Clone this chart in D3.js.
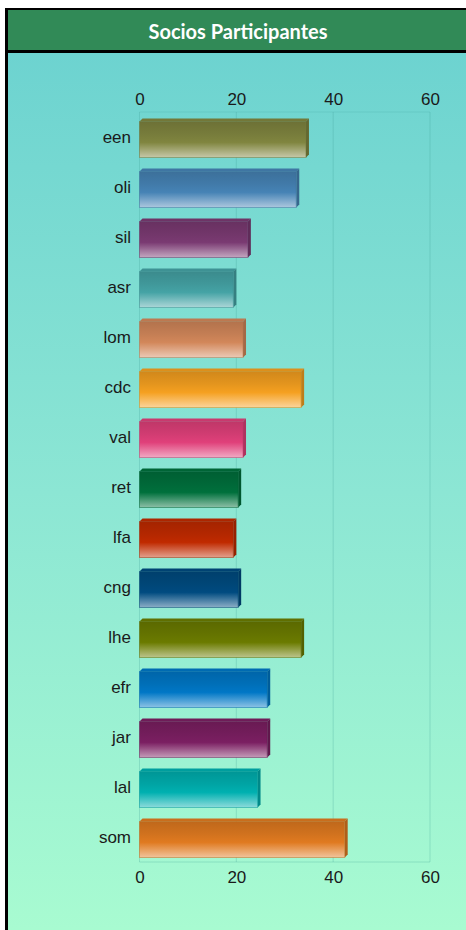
<!DOCTYPE html>
<html lang="es">
<head>
  <meta charset="UTF-8">
  <title>Socios Participantes</title>
  <script src="https://d3js.org/d3.v7.min.js"></script>
  <style>
    body { margin: 0; background: #fff; }
    svg { display: block; }
  </style>
</head>
<body>
  <div id="chart"></div>
  <script>
  // data
  var categories = ["een", "oli", "sil", "asr", "lom", "cdc", "val", "ret", "lfa", "cng", "lhe", "efr", "jar", "lal", "som"];
  var values = [35, 33, 23, 20, 22, 34, 22, 21, 20, 21, 34, 27, 27, 25, 43];
  var tickValues = [0, 20, 40, 60];
  var palette = ["#80853f", "#4683b5", "#7a3a72", "#45a3a5", "#d2875a", "#f5a020", "#e0407a", "#00703c",
                 "#c02a00", "#004b80", "#6b7b00", "#0077c6", "#7b1f62", "#00b0b0", "#e07a20"];
  var title = "Socios Participantes";

  var W = 466, H = 930;
  var depth = 3;

  var svg = d3.select("#chart").append("svg")
    .attr("width", W)
    .attr("height", H);

  var defs = svg.append("defs");

  // background gradient
  var bg = defs.append("linearGradient")
    .attr("id", "bg").attr("x1", 0).attr("y1", 0).attr("x2", 0).attr("y2", 1);
  bg.append("stop").attr("offset", "0%").attr("stop-color", "#6dd3d0");
  bg.append("stop").attr("offset", "50%").attr("stop-color", "#8ce6d4");
  bg.append("stop").attr("offset", "100%").attr("stop-color", "#a8fbd1");

  svg.append("rect")
    .attr("x", 8).attr("y", 53)
    .attr("width", W - 8).attr("height", H - 53)
    .attr("fill", "url(#bg)");

  // frame
  svg.append("rect").attr("x", 5).attr("y", 8).attr("width", 3).attr("height", H - 8).attr("fill", "#000");
  svg.append("rect").attr("x", 5).attr("y", 8).attr("width", W - 5).attr("height", 2).attr("fill", "#000");
  svg.append("rect").attr("x", 8).attr("y", 10).attr("width", W - 8).attr("height", 40).attr("fill", "#318a57");
  svg.append("rect").attr("x", 8).attr("y", 50).attr("width", W - 8).attr("height", 3).attr("fill", "#000");

  svg.append("text")
    .attr("x", 238).attr("y", 31)
    .attr("text-anchor", "middle")
    .attr("dominant-baseline", "central")
    .style("font-family", "Lato, 'Open Sans', sans-serif")
    .style("font-weight", 700)
    .style("font-size", "20px")
    .style("fill", "#fff")
    .text(title);

  // scales
  var x = d3.scaleLinear()
    .domain([0, 60])
    .range([139.5, 430]);

  var y = d3.scaleBand()
    .domain(categories)
    .range([113, 863])
    .paddingInner(0.22)
    .paddingOuter(0.11);

  var gridTop = 112, gridBottom = 862;

  // grid
  var grid = svg.append("g");
  grid.selectAll("line.v")
    .data(tickValues)
    .enter().append("line")
    .attr("x1", function(d) { return x(d); })
    .attr("x2", function(d) { return x(d); })
    .attr("y1", gridTop).attr("y2", gridBottom)
    .attr("stroke", "#3a9a94").attr("stroke-opacity", 0.25);
  grid.append("line")
    .attr("x1", x(0)).attr("x2", x(60)).attr("y1", gridTop).attr("y2", gridTop)
    .attr("stroke", "#3a9a94").attr("stroke-opacity", 0.2);
  grid.append("line")
    .attr("x1", x(0)).attr("x2", x(60)).attr("y1", gridBottom).attr("y2", gridBottom)
    .attr("stroke", "#3a9a94").attr("stroke-opacity", 0.25);

  // axes
  var axisTop = d3.axisTop(x).tickValues(tickValues).tickSize(0).tickPadding(0);
  var axisBottom = d3.axisBottom(x).tickValues(tickValues).tickSize(0).tickPadding(0);
  var axisLeft = d3.axisLeft(y).tickSize(0).tickPadding(0);

  function styleAxis(g) {
    g.select(".domain").remove();
    g.selectAll("text")
      .style("font-family", "'Liberation Sans', Arial, sans-serif")
      .style("font-size", "17px")
      .style("fill", "#1a1a1a");
  }

  svg.append("g").attr("transform", "translate(0,105)").call(axisTop).call(styleAxis);
  svg.append("g").attr("transform", "translate(0,871)").call(axisBottom).call(styleAxis);
  svg.append("g").attr("transform", "translate(131,0)").call(axisLeft).call(styleAxis);

  // bar gradients
  palette.forEach(function(c, i) {
    var base = d3.color(c);
    var g = defs.append("linearGradient")
      .attr("id", "bar" + i).attr("x1", 0).attr("y1", 0).attr("x2", 0).attr("y2", 1);
    g.append("stop").attr("offset", "0%").attr("stop-color", base.darker(0.45));
    g.append("stop").attr("offset", "35%").attr("stop-color", base.darker(0.2));
    g.append("stop").attr("offset", "58%").attr("stop-color", base);
    g.append("stop").attr("offset", "100%").attr("stop-color", d3.interpolateRgb(c, "#fff")(0.55));
  });

  // bars
  var bars = svg.selectAll("g.bar")
    .data(categories)
    .enter().append("g")
    .attr("class", "bar");

  // top face
  bars.append("path")
    .attr("d", function(d, i) {
      var x0 = x(0), x1 = x(values[i]), y0 = y(d);
      return "M" + x0 + "," + (y0 + depth) + "L" + (x0 + depth) + "," + y0 +
        "L" + x1 + "," + y0 + "L" + (x1 - depth) + "," + (y0 + depth) + "Z";
    })
    .attr("fill", function(d, i) { return d3.color(palette[i]).darker(0.3); });

  // side face
  bars.append("path")
    .attr("d", function(d, i) {
      var x1 = x(values[i]), y0 = y(d), y1 = y(d) + y.bandwidth();
      return "M" + (x1 - depth) + "," + (y0 + depth) + "L" + x1 + "," + y0 +
        "L" + x1 + "," + (y1 - depth) + "L" + (x1 - depth) + "," + y1 + "Z";
    })
    .attr("fill", function(d, i) { return d3.color(palette[i]).darker(0.7); });

  // front face
  bars.append("rect")
    .attr("x", x(0))
    .attr("y", function(d) { return y(d) + depth; })
    .attr("width", function(d, i) { return x(values[i]) - depth - x(0); })
    .attr("height", y.bandwidth() - depth)
    .attr("fill", function(d, i) { return "url(#bar" + i + ")"; })
    .attr("stroke", function(d, i) { return d3.color(palette[i]).darker(0.4); })
    .attr("stroke-opacity", 0.5)
    .attr("stroke-width", 1);
  </script>
</body>
</html>
